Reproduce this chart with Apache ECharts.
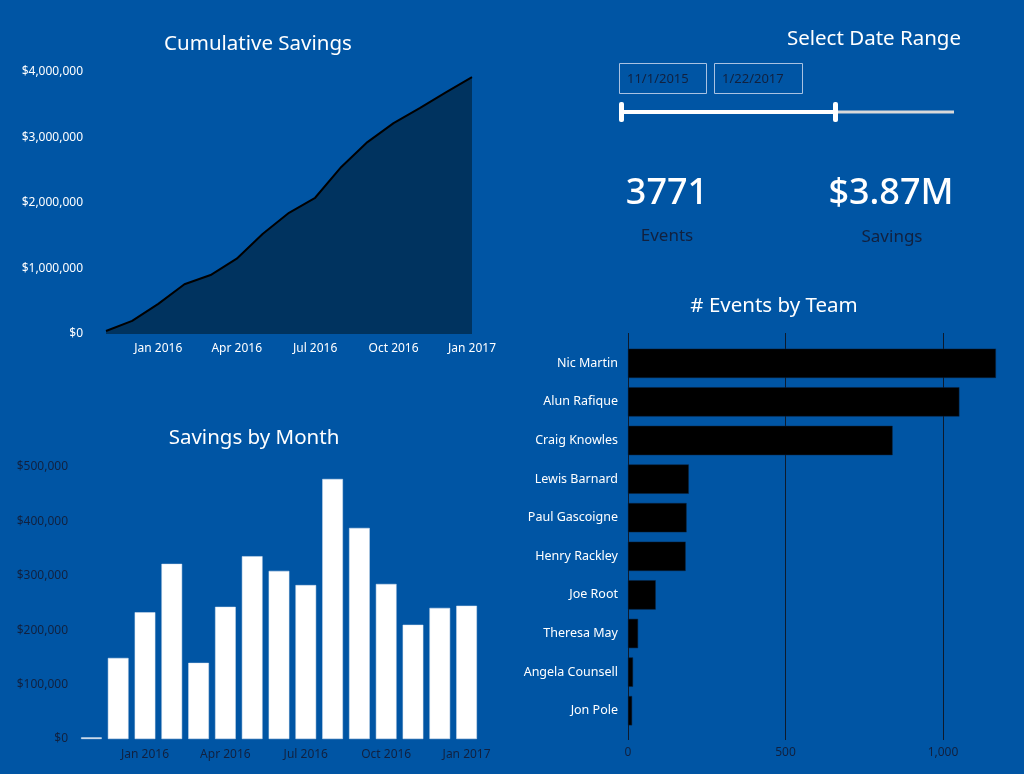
<!DOCTYPE html>
<html>
<head>
<meta charset="utf-8">
<script src="https://cdn.jsdelivr.net/npm/echarts@6/dist/echarts.min.js"></script>
<style>
  html, body { margin: 0; padding: 0; background: #0055a4; }
  #main { width: 1024px; height: 774px; }
</style>
</head>
<body>
<div id="main"></div>
<script>
// months shared by both savings charts
var months = ["Nov 2015", "Dec 2015", "Jan 2016", "Feb 2016", "Mar 2016", "Apr 2016", "May 2016",
  "Jun 2016", "Jul 2016", "Aug 2016", "Sep 2016", "Oct 2016", "Nov 2016", "Dec 2016", "Jan 2017"];
var cumulativeSavings = [46000, 200000, 460000, 760000, 900000, 1150000, 1530000, 1850000,
  2080000, 2550000, 2930000, 3220000, 3450000, 3690000, 3920000];
var monthlySavings = [3000, 149000, 233000, 322000, 140000, 243000, 336000, 309000,
  283000, 478000, 388000, 285000, 210000, 241000, 245000];

var teams = ["Nic Martin", "Alun Rafique", "Craig Knowles", "Lewis Barnard", "Paul Gascoigne",
  "Henry Rackley", "Joe Root", "Theresa May", "Angela Counsell", "Jon Pole"];
var teamEvents = [1168, 1052, 840, 193, 186, 183, 88, 32, 16, 13];

var dateFrom = "11/1/2015";
var dateTo = "1/22/2017";
var totalEvents = "3771";
var totalSavings = "$3.87M";

var FONT = "Noto Sans";
var DARK = "#11213f";
var BG = "#0055a4";

function money(v) {
  return "$" + v.toLocaleString("en-US");
}

function heading(text, x, y) {
  return {
    text: text, left: x, top: y, textAlign: "center", textVerticalAlign: "middle",
    textStyle: { color: "#fff", fontSize: 20.5, fontWeight: "normal", fontFamily: FONT }
  };
}

var chart = echarts.init(document.getElementById("main"));

var option = {
  backgroundColor: BG,
  animation: false,
  textStyle: { fontFamily: FONT },
  title: [
    heading("Cumulative Savings", 253, 39),
    heading("Savings by Month", 249, 433),
    heading("# Events by Team", 769, 301),
    heading("Select Date Range", 869, 34)
  ],
  grid: [
    { left: 106, right: 552, top: 72, bottom: 440, outerBoundsMode: "none" },
    { left: 78, right: 544, top: 467, bottom: 35, outerBoundsMode: "none" },
    { left: 628, width: 472.5, top: 344, bottom: 44, outerBoundsMode: "none" },
    { left: 628, width: 472.5, top: 333, bottom: 34, outerBoundsMode: "none" }
  ],
  xAxis: [
    {
      gridIndex: 0, type: "category", data: months, boundaryGap: false,
      axisLine: { show: false }, axisTick: { show: false },
      axisLabel: {
        color: "#fff", fontSize: 12, margin: 9,
        interval: function (i) { return (i - 2) % 3 === 0; }
      }
    },
    {
      gridIndex: 1, type: "category", data: months,
      axisLine: { show: false }, axisTick: { show: false },
      axisLabel: {
        color: DARK, fontSize: 12, margin: 10,
        interval: function (i) { return (i - 2) % 3 === 0; }
      }
    },
    {
      gridIndex: 2, type: "value", min: 0, max: 1500, interval: 500,
      axisLine: { show: false }, axisTick: { show: false }, splitLine: { show: false },
      axisLabel: { color: DARK, fontSize: 12, margin: 17,
        formatter: function (v) { return v.toLocaleString("en-US"); } }
    },
    {
      gridIndex: 3, type: "value", min: 0, max: 1500, interval: 500,
      axisLine: { show: false }, axisTick: { show: false }, axisLabel: { show: false },
      splitLine: { show: true, lineStyle: { color: "#0d1a2c", width: 1 } }
    }
  ],
  yAxis: [
    {
      gridIndex: 0, type: "value", min: 0, max: 4000000, interval: 1000000,
      axisLine: { show: false }, axisTick: { show: false }, splitLine: { show: false },
      axisLabel: { color: "#fff", fontSize: 12, margin: 23, formatter: money }
    },
    {
      gridIndex: 1, type: "value", min: 0, max: 500000, interval: 100000,
      axisLine: { show: false }, axisTick: { show: false }, splitLine: { show: false },
      axisLabel: { color: DARK, fontSize: 12, margin: 10, formatter: money }
    },
    {
      gridIndex: 2, type: "category", data: teams, inverse: true,
      axisLine: { show: false }, axisTick: { show: false },
      axisLabel: { color: "#fff", fontSize: 12.5, margin: 10 }
    },
    {
      gridIndex: 3, type: "value", show: false
    }
  ],
  series: [
    {
      type: "line", xAxisIndex: 0, yAxisIndex: 0, data: cumulativeSavings,
      symbol: "none", lineStyle: { color: "#000", width: 2 },
      areaStyle: { color: "#00335f", opacity: 1 }
    },
    {
      type: "bar", xAxisIndex: 1, yAxisIndex: 1, data: monthlySavings,
      barCategoryGap: "23%",
      itemStyle: { color: "#fff", borderColor: "#d6e2f0", borderWidth: 0.5 }
    },
    {
      type: "bar", xAxisIndex: 2, yAxisIndex: 2, data: teamEvents,
      barCategoryGap: "24%",
      itemStyle: { color: "#000", borderColor: "#0a2440", borderWidth: 0.5 }
    }
  ],
  graphic: [
    // date boxes
    { type: "rect", shape: { x: 619.5, y: 63.5, width: 87, height: 30 },
      style: { fill: "none", stroke: "#a9c2e2", lineWidth: 1 } },
    { type: "rect", shape: { x: 714.5, y: 63.5, width: 88, height: 30 },
      style: { fill: "none", stroke: "#a9c2e2", lineWidth: 1 } },
    { type: "text", x: 627, y: 79, style: { text: dateFrom, fill: DARK, font: "13px " + FONT, verticalAlign: "middle" } },
    { type: "text", x: 722, y: 79, style: { text: dateTo, fill: DARK, font: "13px " + FONT, verticalAlign: "middle" } },
    // slider track
    { type: "line", shape: { x1: 835, y1: 112, x2: 954, y2: 112 },
      style: { stroke: "#d9d9d9", lineWidth: 3 } },
    { type: "line", shape: { x1: 621, y1: 112, x2: 835, y2: 112 },
      style: { stroke: "#fff", lineWidth: 4 } },
    { type: "rect", shape: { x: 619, y: 102, width: 5, height: 20, r: 2 }, style: { fill: "#fff" } },
    { type: "rect", shape: { x: 833, y: 102, width: 5, height: 20, r: 2 }, style: { fill: "#fff" } },
    // KPI cards
    { type: "text", x: 667, y: 194, style: { text: totalEvents, fill: "#fff", font: "500 36px " + FONT, align: "center", verticalAlign: "middle" } },
    { type: "text", x: 667, y: 236, style: { text: "Events", fill: DARK, font: "17px " + FONT, align: "center", verticalAlign: "middle" } },
    { type: "text", x: 891, y: 194, style: { text: totalSavings, fill: "#fff", font: "500 36px " + FONT, align: "center", verticalAlign: "middle" } },
    { type: "text", x: 892, y: 237, style: { text: "Savings", fill: DARK, font: "17px " + FONT, align: "center", verticalAlign: "middle" } }
  ]
};

chart.setOption(option);
</script>
</body>
</html>
